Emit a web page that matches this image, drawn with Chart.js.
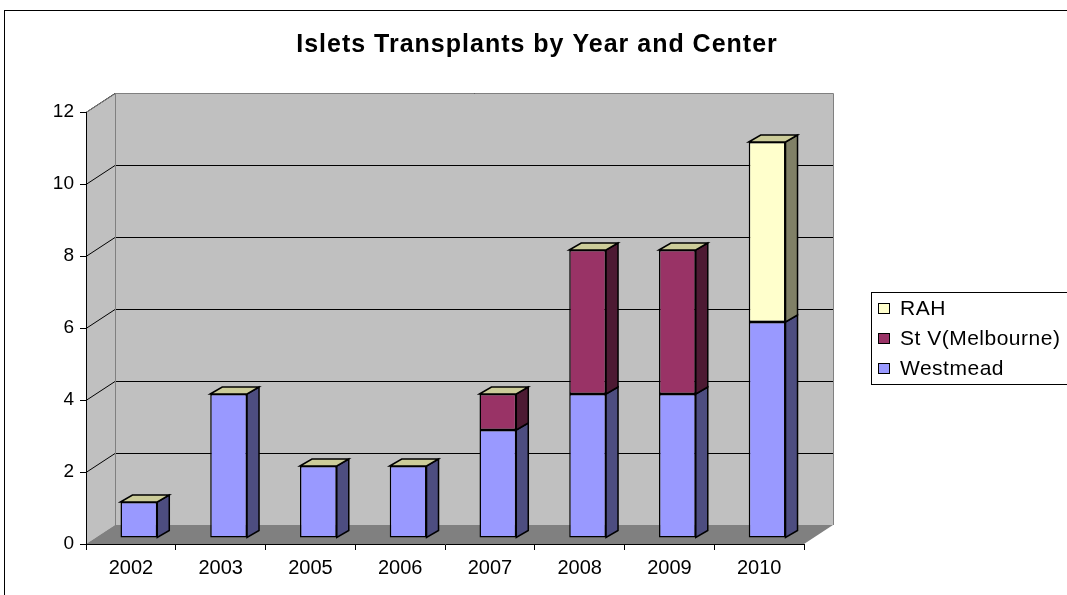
<!DOCTYPE html>
<html>
<head>
<meta charset="utf-8">
<title>Islets Transplants by Year and Center</title>
<script src="https://cdn.jsdelivr.net/npm/chart.js@4.4.0/dist/chart.umd.min.js"></script>
<style>
    html, body { margin: 0; padding: 0; background: #fff; }
    #wrap { width: 1067px; height: 595px; }
</style>
</head>
<body>
<div id="wrap"><canvas id="TransplantChart" width="1067" height="595"></canvas></div>
<script>
// chart data
var years = ['2002', '2003', '2005', '2006', '2007', '2008', '2009', '2010'];
var westmead = [1, 4, 2, 2, 3, 4, 4, 6];
var stVincent = [0, 0, 0, 0, 1, 4, 4, 0];
var rah = [0, 0, 0, 0, 0, 0, 0, 5];
var seriesNames = ['Westmead', 'St V(Melbourne)', 'RAH'];

// colours: front, side
var frontColors = ['#9999FF', '#993366', '#FFFFCC'];
var sideColors = ['#4D4D80', '#4D1A33', '#808066'];
var topColor = '#CCCC99';

// fake 3d offsets
var WALL_DX = 29, WALL_DY = -19;
var BAR_DX = 8, BAR_DY = -6;
var SIDE_DX = 12, SIDE_DY = -7;
var FONT = 'Arial, "Liberation Sans", sans-serif';

var walls = {
    id: 'walls',
    beforeDraw: function (chart) {
        var ctx = chart.ctx, a = chart.chartArea, y = chart.scales.y;
        ctx.save();
        // outer frame
        ctx.strokeStyle = '#000';
        ctx.lineWidth = 1;
        ctx.strokeRect(4.5, 10.5, 1200, 1000);

        // side + back wall
        ctx.fillStyle = '#C0C0C0';
        ctx.beginPath();
        ctx.moveTo(a.left, a.bottom);
        ctx.lineTo(a.left, a.top);
        ctx.lineTo(a.left + WALL_DX, a.top + WALL_DY);
        ctx.lineTo(a.right + WALL_DX, a.top + WALL_DY);
        ctx.lineTo(a.right + WALL_DX, a.bottom + WALL_DY);
        ctx.lineTo(a.left + WALL_DX, a.bottom + WALL_DY);
        ctx.closePath();
        ctx.fill();

        // grid lines
        ctx.strokeStyle = '#000';
        ctx.lineWidth = 1;
        y.ticks.forEach(function (t) {
            if (t.value === 0) return;
            var py = Math.round(y.getPixelForValue(t.value)) + 0.5;
            ctx.beginPath();
            ctx.moveTo(a.left, py);
            ctx.lineTo(a.left + WALL_DX, py + WALL_DY);
            ctx.lineTo(a.right + WALL_DX, py + WALL_DY);
            ctx.stroke();
        });

        // wall edges
        ctx.strokeStyle = '#808080';
        ctx.beginPath();
        ctx.moveTo(a.left, a.top + 0.5);
        ctx.lineTo(a.left + WALL_DX + 0.5, a.top + WALL_DY + 0.5);
        ctx.lineTo(a.right + WALL_DX + 0.5, a.top + WALL_DY + 0.5);
        ctx.lineTo(a.right + WALL_DX + 0.5, a.bottom + WALL_DY);
        ctx.moveTo(a.left + WALL_DX + 0.5, a.top + WALL_DY);
        ctx.lineTo(a.left + WALL_DX + 0.5, a.bottom + WALL_DY);
        ctx.stroke();

        // floor
        ctx.fillStyle = '#808080';
        ctx.beginPath();
        ctx.moveTo(a.left, a.bottom);
        ctx.lineTo(a.right, a.bottom);
        ctx.lineTo(a.right + WALL_DX, a.bottom + WALL_DY);
        ctx.lineTo(a.left + WALL_DX, a.bottom + WALL_DY);
        ctx.closePath();
        ctx.fill();
        ctx.restore();
    },
    beforeDatasetsDraw: function (chart) {
        chart.ctx.save();
        chart.ctx.translate(BAR_DX, BAR_DY);
    },
    afterDatasetsDraw: function (chart) {
        var ctx = chart.ctx;
        ctx.lineWidth = 1.5;
        ctx.strokeStyle = '#000';
        ctx.lineJoin = 'miter';
        var topIdx = [];
        for (var d = 0; d < chart.data.datasets.length; d++) {
            var meta = chart.getDatasetMeta(d);
            meta.data.forEach(function (bar, j) {
                if (!chart.data.datasets[d].data[j]) return;
                topIdx[j] = d;
                var p = bar.getProps(['x', 'y', 'base', 'width'], true);
                var r = p.x + p.width / 2;
                ctx.fillStyle = sideColors[d];
                ctx.beginPath();
                ctx.moveTo(r, p.y);
                ctx.lineTo(r + SIDE_DX, p.y + SIDE_DY);
                ctx.lineTo(r + SIDE_DX, p.base + SIDE_DY);
                ctx.lineTo(r, p.base);
                ctx.closePath();
                ctx.fill();
                ctx.stroke();
            });
        }
        topIdx.forEach(function (d, j) {
            if (d === undefined) return;
            var p = chart.getDatasetMeta(d).data[j].getProps(['x', 'y', 'width'], true);
            var l = p.x - p.width / 2, r = p.x + p.width / 2;
            ctx.fillStyle = topColor;
            ctx.beginPath();
            ctx.moveTo(l, p.y);
            ctx.lineTo(l + SIDE_DX, p.y + SIDE_DY);
            ctx.lineTo(r + SIDE_DX, p.y + SIDE_DY);
            ctx.lineTo(r, p.y);
            ctx.closePath();
            ctx.fill();
            ctx.stroke();
        });
        ctx.restore();
    },
    afterDraw: function (chart) {
        var ctx = chart.ctx;
        ctx.save();
        // title
        ctx.fillStyle = '#000';
        ctx.font = 'bold 25px ' + FONT;
        ctx.letterSpacing = '1px';
        ctx.textAlign = 'center';
        ctx.textBaseline = 'middle';
        ctx.fillText('Islets Transplants by Year and Center', 537, 45);

        // legend (reverse order like the original)
        ctx.strokeStyle = '#000';
        ctx.lineWidth = 1;
        ctx.strokeRect(871.5, 292.5, 220, 92);
        ctx.font = '21px ' + FONT;
        ctx.letterSpacing = '0.5px';
        ctx.textAlign = 'left';
        var rows = [308, 338, 368];
        for (var k = 0; k < 3; k++) {
            var s = 2 - k;
            ctx.fillStyle = frontColors[s];
            ctx.fillRect(878.5, rows[k] - 4.5, 11, 10);
            ctx.strokeRect(878.5, rows[k] - 4.5, 11, 10);
            ctx.fillStyle = '#000';
            ctx.fillText(seriesNames[s], 900, rows[k] + 1);
        }
        ctx.restore();
    }
};

function barBorder(c) {
    return c.raw ? 1.5 : 0;
}

var ctx = document.getElementById('TransplantChart');
var transplantChart = new Chart(ctx, {
    type: 'bar',
    data: {
        labels: years,
        datasets: [{
            label: seriesNames[0],
            data: westmead,
            backgroundColor: frontColors[0]
        }, {
            label: seriesNames[1],
            data: stVincent,
            backgroundColor: frontColors[1]
        }, {
            label: seriesNames[2],
            data: rah,
            backgroundColor: frontColors[2]
        }]
    },
    options: {
        responsive: false,
        animation: false,
        devicePixelRatio: 1,
        layout: { padding: { top: 112, right: 263, left: 0, bottom: 0 } },
        datasets: {
            bar: {
                categoryPercentage: 1,
                barPercentage: 0.41,
                borderColor: '#000',
                borderWidth: barBorder,
                borderSkipped: false,
                clip: false
            }
        },
        plugins: {
            legend: { display: false },
            title: { display: false },
            tooltip: { enabled: false }
        },
        scales: {
            x: {
                stacked: true,
                afterFit: function (scale) { scale.height = 51; },
                grid: { offset: true, drawOnChartArea: false, drawTicks: true, tickLength: 6, color: '#000' },
                border: { display: true, color: '#000', width: 1 },
                ticks: { color: '#000', padding: 6, font: { size: 20, family: FONT } }
            },
            y: {
                stacked: true,
                min: 0,
                max: 12,
                afterFit: function (scale) { scale.width = 86; },
                grid: { drawOnChartArea: false, drawTicks: true, tickLength: 6, color: '#000' },
                border: { display: true, color: '#000', width: 1 },
                ticks: { stepSize: 2, color: '#000', padding: 6, font: { size: 19, family: FONT } }
            }
        }
    },
    plugins: [walls]
});
</script>
</body>
</html>
